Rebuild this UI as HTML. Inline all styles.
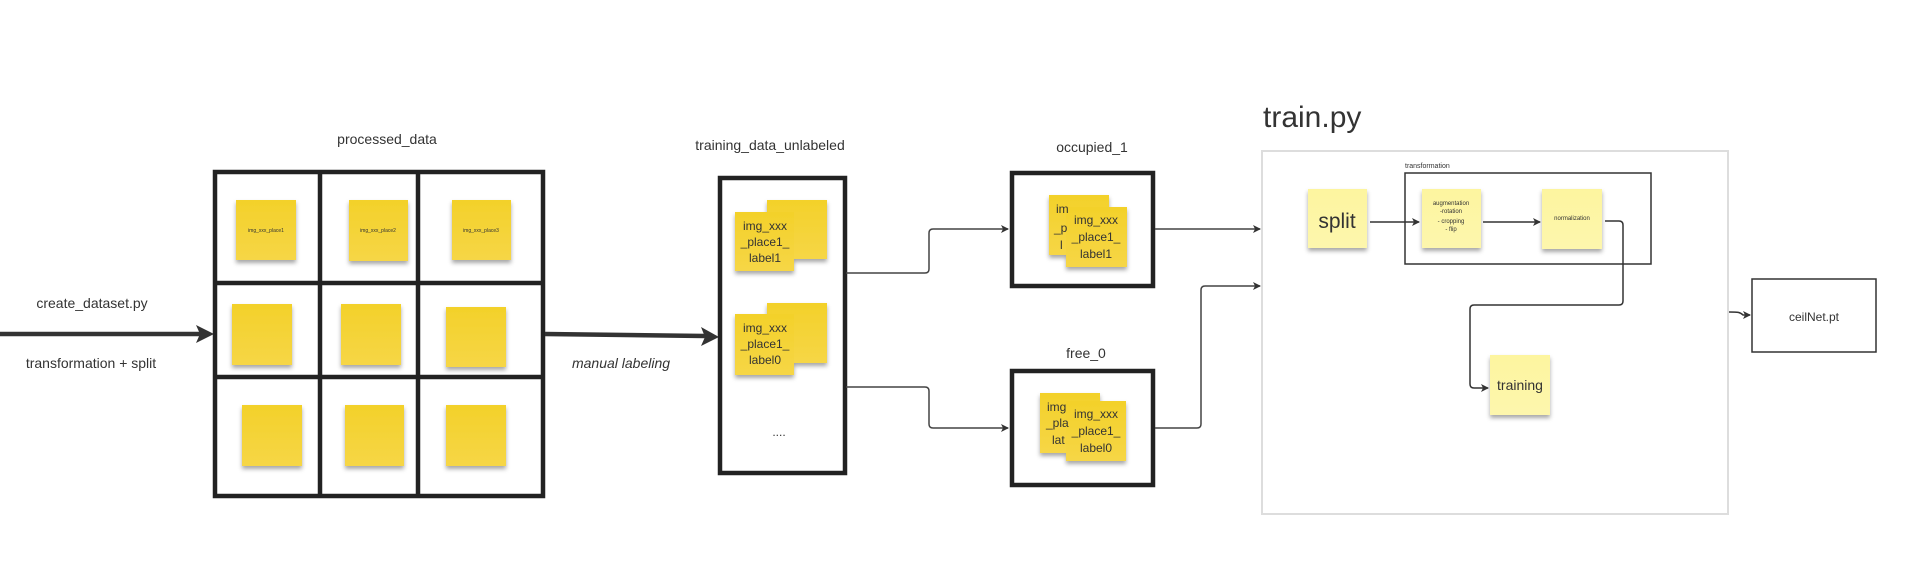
<!DOCTYPE html>
<html><head><meta charset="utf-8"><style>
html,body{margin:0;padding:0;background:#fff;}
svg{display:block;}
text{font-family:"Liberation Sans",sans-serif;fill:#333;}
</style></head><body>
<svg width="1927" height="567" viewBox="0 0 1927 567" xmlns="http://www.w3.org/2000/svg">
<defs>
<linearGradient id="y" x1="0" y1="0" x2="0" y2="1"><stop offset="0" stop-color="#f3d12a"/><stop offset="1" stop-color="#f6d646"/></linearGradient>
<linearGradient id="ly" x1="0" y1="0" x2="0" y2="1"><stop offset="0" stop-color="#fdf59f"/><stop offset="1" stop-color="#fdf6ad"/></linearGradient>
<filter id="sh" x="-20%" y="-20%" width="140%" height="150%"><feDropShadow dx="0" dy="3" stdDeviation="2" flood-color="#000" flood-opacity="0.35"/></filter>
<marker id="ah" markerWidth="10" markerHeight="10" refX="8" refY="5" orient="auto" markerUnits="userSpaceOnUse"><path d="M1,1 L9,5 L1,9 L3,5 Z" fill="#333"/></marker>
</defs>

<!-- left arrow -->
<line x1="0" y1="334" x2="200" y2="334" stroke="#333" stroke-width="4.5"/>
<path d="M196,325 L214,334 L196,343 L200,334 Z" fill="#333"/>
<text x="92" y="308" font-size="14" text-anchor="middle">create_dataset.py</text>
<text x="91" y="368" font-size="14" text-anchor="middle">transformation + split</text>

<!-- processed grid -->
<text x="387" y="144" font-size="14" text-anchor="middle">processed_data</text>
<g stroke="#222" stroke-width="4.5" fill="none">
<rect x="215" y="172" width="328" height="324"/>
<line x1="320" y1="172" x2="320" y2="496"/>
<line x1="418" y1="172" x2="418" y2="496"/>
<line x1="215" y1="283" x2="545" y2="283"/>
<line x1="215" y1="377" x2="545" y2="377"/>
</g>
<g fill="url(#y)" filter="url(#sh)">
<rect x="236" y="200" width="60" height="60"/>
<rect x="349" y="200" width="59" height="61"/>
<rect x="452" y="200" width="59" height="60"/>
<rect x="232" y="304" width="60" height="61"/>
<rect x="341" y="304" width="60" height="61"/>
<rect x="446" y="307" width="60" height="60"/>
<rect x="242" y="405" width="60" height="61"/>
<rect x="345" y="405" width="59" height="61"/>
<rect x="446" y="405" width="60" height="61"/>
</g>
<g font-size="5" text-anchor="middle" fill="#333">
<text x="266" y="232">img_xxx_place1</text>
<text x="378" y="232">img_xxx_place2</text>
<text x="481" y="232">img_xxx_place3</text>
</g>

<!-- manual labeling arrow -->
<line x1="545" y1="334" x2="705" y2="336" stroke="#333" stroke-width="4.5"/>
<path d="M701,327 L719,337 L701,346 L705,337 Z" fill="#333"/>
<text x="621" y="368" font-size="14" font-style="italic" text-anchor="middle">manual labeling</text>

<!-- training_data_unlabeled -->
<text x="770" y="150" font-size="14" text-anchor="middle">training_data_unlabeled</text>
<rect x="720" y="178" width="125" height="295" fill="none" stroke="#222" stroke-width="4.5"/>
<g filter="url(#sh)" fill="url(#y)">
<rect x="767" y="200" width="60" height="59"/>
<rect x="735" y="212" width="59" height="59"/>
<rect x="767" y="303" width="60" height="60"/>
<rect x="735" y="314" width="59" height="61"/>
</g>
<g font-size="12" text-anchor="middle" fill="#333">
<text x="765" y="230">img_xxx</text><text x="765" y="246">_place1_</text><text x="765" y="262">label1</text>
<text x="765" y="332">img_xxx</text><text x="765" y="348">_place1_</text><text x="765" y="364">label0</text>
</g>
<text x="779" y="436" font-size="12" text-anchor="middle">....</text>

<!-- connectors to occupied/free -->
<g fill="none" stroke="#444" stroke-width="1.5">
<path d="M846,273 H925 Q929,273 929,269 V233 Q929,229 933,229 H1008" marker-end="url(#ah)"/>
<path d="M846,387 H925 Q929,387 929,391 V424 Q929,428 933,428 H1008" marker-end="url(#ah)"/>
</g>

<!-- occupied_1 -->
<text x="1092" y="152" font-size="14" text-anchor="middle">occupied_1</text>
<rect x="1012" y="173" width="141" height="113" fill="none" stroke="#222" stroke-width="4.5"/>
<g filter="url(#sh)" fill="url(#y)">
<rect x="1049" y="195" width="60" height="60"/>
<rect x="1066" y="207" width="61" height="60"/>
</g>
<text x="1056" y="213" font-size="12" fill="#333">im</text>
<text x="1054" y="232" font-size="12" fill="#333">_p</text>
<text x="1060" y="249" font-size="12" fill="#333">l</text>
<g font-size="12" text-anchor="middle" fill="#333">
<text x="1096" y="224">img_xxx</text><text x="1096" y="241">_place1_</text><text x="1096" y="258">label1</text>
</g>

<!-- free_0 -->
<text x="1086" y="358" font-size="14" text-anchor="middle">free_0</text>
<rect x="1012" y="371" width="141" height="114" fill="none" stroke="#222" stroke-width="4.5"/>
<g filter="url(#sh)" fill="url(#y)">
<rect x="1040" y="393" width="60" height="60"/>
<rect x="1066" y="401" width="60" height="60"/>
</g>
<text x="1047" y="411" font-size="12" fill="#333">img</text>
<text x="1046" y="427" font-size="12" fill="#333">_pla</text>
<text x="1052" y="444" font-size="12" fill="#333">lat</text>
<g font-size="12" text-anchor="middle" fill="#333">
<text x="1096" y="418">img_xxx</text><text x="1096" y="435">_place1_</text><text x="1096" y="452">label0</text>
</g>

<!-- to train -->
<g fill="none" stroke="#444" stroke-width="1.5">
<path d="M1155,229 H1260" marker-end="url(#ah)"/>
<path d="M1155,428 H1197 Q1201,428 1201,424 V290 Q1201,286 1205,286 H1260" marker-end="url(#ah)"/>
</g>

<!-- train.py -->
<text x="1263" y="127" font-size="30" fill="#555">train.py</text>
<rect x="1262" y="151" width="466" height="363" fill="none" stroke="#ddd" stroke-width="2"/>
<text x="1405" y="168" font-size="7" fill="#444">transformation</text>
<rect x="1405" y="173" width="246" height="91" fill="none" stroke="#333" stroke-width="1.5"/>
<g filter="url(#sh)" fill="url(#ly)">
<rect x="1308" y="189" width="59" height="59"/>
<rect x="1422" y="189" width="59" height="59"/>
<rect x="1542" y="189" width="60" height="60"/>
<rect x="1490" y="355" width="60" height="60"/>
</g>
<text x="1337" y="228" font-size="21" text-anchor="middle" fill="#222">split</text>
<g font-size="6" text-anchor="middle" fill="#444">
<text x="1451" y="205">augmentation</text><text x="1451" y="213">-rotation</text>
<text x="1451" y="223">- cropping</text><text x="1451" y="231">- flip</text>
<text x="1572" y="220">normalization</text>
</g>
<text x="1520" y="390" font-size="14" text-anchor="middle" fill="#222">training</text>
<g fill="none" stroke="#333" stroke-width="1.5">
<path d="M1370,222 H1419" marker-end="url(#ah)"/>
<path d="M1483,222 H1540" marker-end="url(#ah)"/>
<path d="M1605,221 H1619 Q1623,221 1623,225 V301 Q1623,305 1619,305 H1474 Q1470,305 1470,309 V384 Q1470,388 1474,388 H1488" marker-end="url(#ah)"/>
<path d="M1729,312 C1738,312 1740,312 1743,315 H1750" marker-end="url(#ah)"/>
</g>
<rect x="1752" y="279" width="124" height="73" fill="none" stroke="#333" stroke-width="1.5"/>
<text x="1814" y="321" font-size="12" text-anchor="middle" fill="#333">ceilNet.pt</text>
</svg>
</body></html>
